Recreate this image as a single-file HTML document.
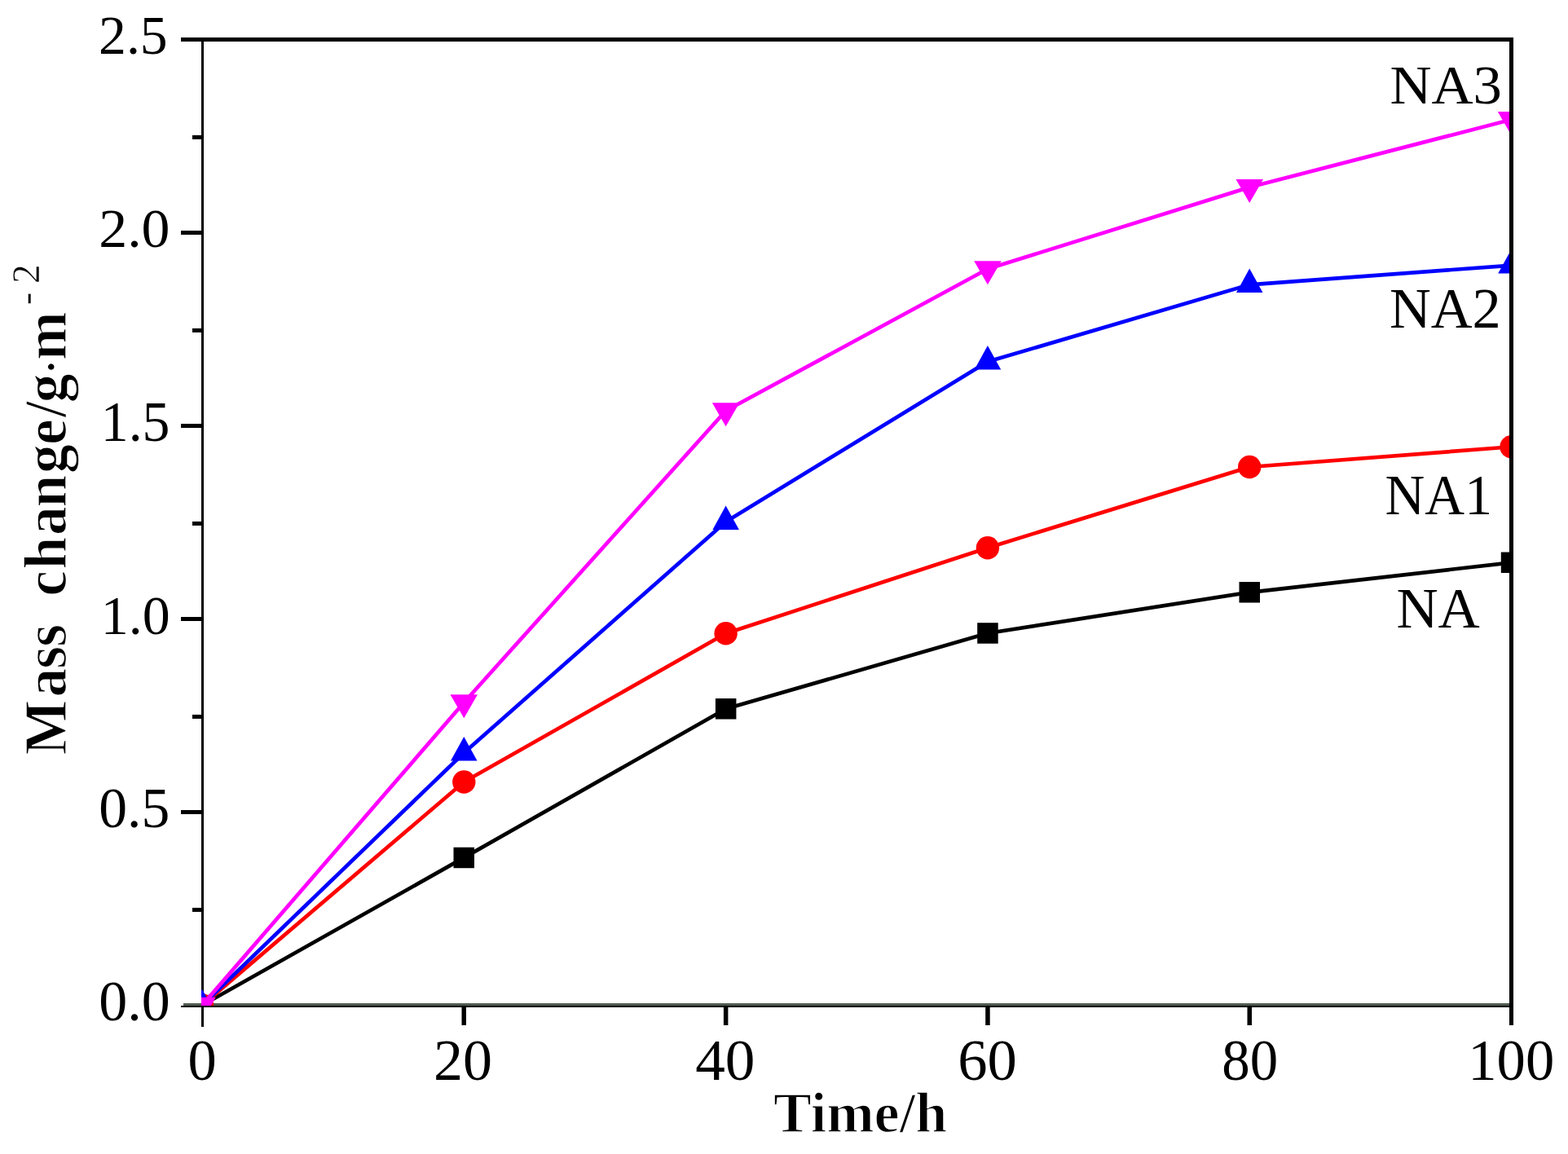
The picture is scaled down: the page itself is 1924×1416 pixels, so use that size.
<!DOCTYPE html>
<html><head><meta charset="utf-8"><title>Mass change vs time</title>
<style>
html,body{margin:0;padding:0;background:#fff;}
body{width:1924px;height:1416px;overflow:hidden;}
svg{display:block;}
text{font-family:"Liberation Serif","Times New Roman",serif;fill:#000;stroke:#fff;stroke-width:0px;stroke-linejoin:round;} text[font-weight=bold]{stroke-width:1.4px;}
</style></head><body>
<svg width="1924" height="1416" viewBox="0 0 1924 1416">
<defs><clipPath id="pc"><rect x="247" y="46" width="1605" height="1188"/></clipPath></defs>
<rect x="0" y="0" width="1924" height="1416" fill="#fff"/>
<rect x="247" y="46" width="3" height="1214" fill="#000"/>
<rect x="225" y="1231" width="1632" height="3" fill="#505a50"/>
<g clip-path="url(#pc)">
<polyline points="248.0,1233.5 569.3,1052.4 890.6,869.8 1211.9,777.0 1533.2,726.8 1854.5,690.3" fill="none" stroke="#000" stroke-width="4.7" stroke-linejoin="round" stroke-linecap="round"/>
<rect x="235.2" y="1220.8" width="25.5" height="25.5" fill="#000"/>
<rect x="556.5" y="1039.7" width="25.5" height="25.5" fill="#000"/>
<rect x="877.9" y="857.0" width="25.5" height="25.5" fill="#000"/>
<rect x="1199.2" y="764.2" width="25.5" height="25.5" fill="#000"/>
<rect x="1520.5" y="714.0" width="25.5" height="25.5" fill="#000"/>
<rect x="1841.8" y="677.5" width="25.5" height="25.5" fill="#000"/>
<polyline points="248.0,1233.5 569.3,959.5 890.6,777.3 1211.9,672.2 1533.2,573.0 1854.5,548.3" fill="none" stroke="#ff0000" stroke-width="4.7" stroke-linejoin="round" stroke-linecap="round"/>
<circle cx="248.0" cy="1233.5" r="14.2" fill="#ff0000"/>
<circle cx="569.3" cy="959.5" r="14.2" fill="#ff0000"/>
<circle cx="890.6" cy="777.3" r="14.2" fill="#ff0000"/>
<circle cx="1211.9" cy="672.2" r="14.2" fill="#ff0000"/>
<circle cx="1533.2" cy="573.0" r="14.2" fill="#ff0000"/>
<circle cx="1854.5" cy="548.3" r="14.2" fill="#ff0000"/>
<polyline points="248.0,1233.5 569.3,923.7 890.6,640.2 1211.9,443.8 1533.2,349.3 1854.5,325.6" fill="none" stroke="#0000ff" stroke-width="4.7" stroke-linejoin="round" stroke-linecap="round"/>
<polygon points="248.0,1213.8 264.2,1243.3 231.8,1243.3" fill="#0000ff"/>
<polygon points="569.3,904.0 585.5,933.5 553.0,933.5" fill="#0000ff"/>
<polygon points="890.6,620.5 906.9,650.0 874.4,650.0" fill="#0000ff"/>
<polygon points="1211.9,424.1 1228.2,453.6 1195.7,453.6" fill="#0000ff"/>
<polygon points="1533.2,329.6 1549.5,359.1 1517.0,359.1" fill="#0000ff"/>
<polygon points="1854.5,305.9 1870.8,335.4 1838.2,335.4" fill="#0000ff"/>
<polyline points="248.0,1233.5 569.3,862.0 890.6,504.0 1211.9,330.0 1533.2,229.8 1854.5,146.8" fill="none" stroke="#ff00ff" stroke-width="4.7" stroke-linejoin="round" stroke-linecap="round"/>
<polygon points="231.2,1223.8 264.8,1223.8 248.0,1252.8" fill="#ff00ff"/>
<polygon points="552.5,852.3 586.0,852.3 569.3,881.3" fill="#ff00ff"/>
<polygon points="873.9,494.3 907.4,494.3 890.6,523.3" fill="#ff00ff"/>
<polygon points="1195.2,320.3 1228.7,320.3 1211.9,349.3" fill="#ff00ff"/>
<polygon points="1516.5,220.1 1550.0,220.1 1533.2,249.1" fill="#ff00ff"/>
<polygon points="1837.8,137.1 1871.2,137.1 1854.5,166.1" fill="#ff00ff"/>
</g>
<rect x="222" y="1234" width="1635" height="2" fill="#000"/>
<rect x="225" y="46" width="1632" height="5" fill="#000"/>
<rect x="1852" y="46" width="5" height="1212" fill="#000"/>
<rect x="236" y="1113.9" width="12" height="5" fill="#000"/>
<rect x="222" y="994.0" width="26" height="5" fill="#000"/>
<rect x="236" y="876.9" width="12" height="5" fill="#000"/>
<rect x="222" y="757.0" width="26" height="5" fill="#000"/>
<rect x="236" y="639.9" width="12" height="5" fill="#000"/>
<rect x="222" y="520.0" width="26" height="5" fill="#000"/>
<rect x="236" y="402.9" width="12" height="5" fill="#000"/>
<rect x="222" y="283.0" width="26" height="5" fill="#000"/>
<rect x="236" y="165.9" width="12" height="5" fill="#000"/>
<rect x="222" y="46.0" width="26" height="5" fill="#000"/>
<rect x="566.5" y="1234" width="5.5" height="24" fill="#000"/>
<rect x="887.9" y="1234" width="5.5" height="24" fill="#000"/>
<rect x="1209.2" y="1234" width="5.5" height="24" fill="#000"/>
<rect x="1530.5" y="1234" width="5.5" height="24" fill="#000"/>
<text transform="translate(121.2,1252.0) scale(1.014,1)" x="0" y="0" font-size="69.0">0.0</text>
<text transform="translate(121.2,1015.0) scale(1.014,1)" x="0" y="0" font-size="68.7">0.5</text>
<text transform="translate(123.8,777.5) scale(0.998,1)" x="0" y="0" font-size="68.1">1.0</text>
<text transform="translate(123.8,540.5) scale(0.982,1)" x="0" y="0" font-size="69.0">1.5</text>
<text transform="translate(121.2,303.3) scale(1.031,1)" x="0" y="0" font-size="67.8">2.0</text>
<text transform="translate(121.1,66.2) scale(1.001,1)" x="0" y="0" font-size="67.6">2.5</text>
<text transform="translate(230.4,1325.2) scale(0.986,1)" x="0" y="0" font-size="71.5">0</text>
<text transform="translate(531.9,1325.2) scale(1.007,1)" x="0" y="0" font-size="71.5">20</text>
<text transform="translate(853.2,1325.2) scale(1.025,1)" x="0" y="0" font-size="71.5">40</text>
<text transform="translate(1175.2,1325.2) scale(1.016,1)" x="0" y="0" font-size="71.5">60</text>
<text transform="translate(1499.3,1324.8) scale(0.954,1)" x="0" y="0" font-size="72.2">80</text>
<text transform="translate(1801.3,1324.5) scale(0.988,1)" x="0" y="0" font-size="71.5">100</text>
<text transform="translate(1705.4,126.5) scale(1.033,1)" x="0" y="0" font-size="68.5">NA3</text>
<text transform="translate(1704.9,402.1) scale(1.017,1)" x="0" y="0" font-size="69.2">NA2</text>
<text transform="translate(1699.6,631.0) scale(0.976,1)" x="0" y="0" font-size="69.2">NA1</text>
<text transform="translate(1713.4,770.2) scale(1.013,1)" x="0" y="0" font-size="70.0">NA</text>
<text transform="translate(949.1,1389.0) scale(1.016,1)" x="0" y="0" font-size="69.1" font-weight="bold">Time/h</text>
<text transform="translate(80.6,926.0) rotate(-90) scale(1,1.035)" font-size="71.7" font-weight="bold"><tspan x="-0.6 70.4 105.3 132.2 160.2" y="0">Mass </tspan><tspan x="194.2 227.5 269.0 303.6 344.9 379.9 413.8 431.8" y="0">change/g</tspan><tspan x="464.3" y="6.0" font-weight="normal" font-size="70.0" stroke-width="0.8">&#183;</tspan><tspan x="484.1" y="0">m</tspan><tspan x="551.8 578.0" y="-31.6" font-weight="normal" font-size="47.5" stroke-width="0.5">-2</tspan></text>
</svg>
</body></html>
